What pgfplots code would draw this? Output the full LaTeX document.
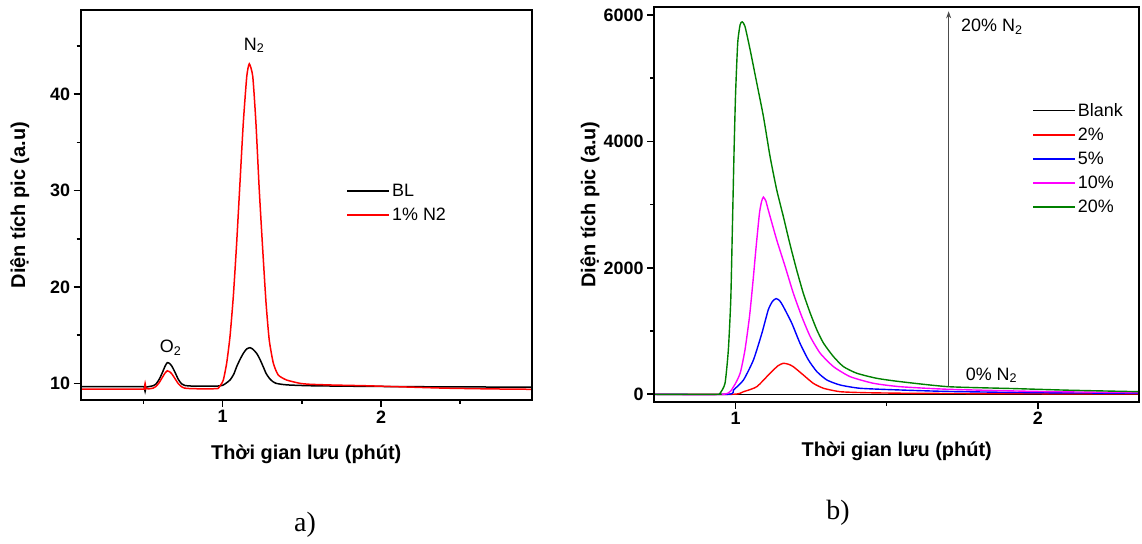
\documentclass[border=0pt]{standalone}
\usepackage{pgfplots}
\pgfplotsset{compat=1.18}
\usepackage{fontspec}
\setmainfont{Liberation Sans}
\newfontfamily\timesfont{Liberation Serif}
\usetikzlibrary{arrows.meta}

\definecolor{cgreen}{RGB}{0,128,0}
\definecolor{cmag}{RGB}{255,0,255}

\pgfplotsset{
  myaxis/.style={
    scale only axis,
    anchor=south west,
    separate axis lines,
    axis line style={line width=2bp, black},
    every outer x axis line/.append style={line width=2bp, black},
    every outer y axis line/.append style={line width=2bp, black},
    tick align=outside,
    xtick pos=left, ytick pos=left,
    major tick length=7bp, minor tick length=4bp,
    every tick/.style={line width=1.6bp, black},
    /pgf/number format/assume math mode=true,
    /pgf/number format/1000 sep={},
    scaled ticks=false,
    tick label style={font=\bfseries\fontsize{18}{18}\selectfont},
    legend style={draw=none, fill=none, font=\fontsize{18}{22}\selectfont, inner sep=0pt, row sep=6bp,
      /tikz/every even column/.append style={column sep=4bp}},
    legend cell align=left,
    legend image code/.code={\draw[#1, line width=1.6bp] (0bp,0bp) -- (42bp,0bp);},
    clip mode=individual,
  }
}

\begin{document}
\begin{tikzpicture}[x=1bp,y=1bp]
\path[use as bounding box] (0,0) rectangle (1142,544);

% ---------------- Panel a ----------------
\begin{axis}[myaxis,
  at={(80.7bp,144bp)}, width=451bp, height=390bp,
  xmin=0.103, xmax=2.952, ymin=8.27, ymax=48.75,
  xtick={1,2}, minor xtick={0.5,1.5,2.5},
  ytick={10,20,30,40}, minor ytick={15,25,35,45},
  xlabel={Thời gian lưu (phút)},
  ylabel={Diện tích pic (a.u)},
  every axis x label/.style={at={(rel axis cs:0.5,0)}, yshift=-54bp, anchor=center, font=\bfseries\fontsize{20}{24}\selectfont},
  every axis y label/.style={at={(rel axis cs:0,0.5)}, xshift=-61bp, anchor=center, rotate=90, font=\bfseries\fontsize{20}{24}\selectfont},
  legend style={at={(rel axis cs:0.589,0.559)}, anchor=north west},
]
\addplot[black, line width=1.5bp, smooth, tension=0.35] coordinates {
(0.10,9.65) (0.30,9.65) (0.49,9.65) (0.505,9.62) (0.51,9.15) (0.515,9.6) (0.53,9.65)
(0.56,9.75) (0.58,9.95) (0.60,10.45) (0.62,11.15) (0.635,11.75) (0.65,12.15) (0.665,12.05)
(0.68,11.75) (0.70,11.1) (0.72,10.4) (0.74,9.95) (0.76,9.78) (0.80,9.72) (0.90,9.7)
(0.97,9.72) (1.00,9.8) (1.02,10.0) (1.046,10.34) (1.07,10.95) (1.088,11.72) (1.11,12.5)
(1.13,13.1) (1.15,13.55) (1.172,13.7) (1.19,13.55) (1.215,13.1) (1.235,12.5) (1.256,11.72)
(1.275,11.0) (1.295,10.52) (1.315,10.2) (1.337,10.0) (1.38,9.88) (1.425,9.82) (1.55,9.75)
(1.80,9.7) (2.20,9.65) (2.95,9.6)
};
\addlegendentry{BL}
\addplot[red, line width=1.5bp, smooth, tension=0.35] coordinates {
(0.10,9.4) (0.30,9.4) (0.495,9.4) (0.505,9.45) (0.51,10.0) (0.515,9.5) (0.53,9.42)
(0.56,9.5) (0.58,9.7) (0.60,10.1) (0.62,10.65) (0.635,11.05) (0.65,11.3) (0.665,11.2)
(0.68,10.95) (0.70,10.45) (0.72,9.95) (0.74,9.65) (0.76,9.5) (0.80,9.45) (0.90,9.42)
(0.965,9.45) (0.972,9.48) (0.99,9.9) (1.004,10.34) (1.025,12.08) (1.046,14.84) (1.067,19.0)
(1.088,24.5) (1.109,30.77) (1.130,37.0) (1.152,41.84) (1.168,43.16) (1.19,41.84) (1.21,37.0)
(1.231,30.07) (1.253,23.84) (1.274,18.3) (1.294,14.5) (1.32,12.08) (1.351,10.86) (1.404,10.34)
(1.488,10.0) (1.551,9.9) (1.70,9.82) (1.90,9.75) (2.10,9.65) (2.40,9.5) (2.70,9.42) (2.95,9.38)
};
\addlegendentry{1\% N2}
\draw[black, line width=2bp] (rel axis cs:0,0) rectangle (rel axis cs:1,1);
\node[anchor=base west, font=\fontsize{18}{18}\selectfont, inner sep=0pt] at (rel axis cs:0.3615,0.897) {N\textsubscript{2}};
\node[anchor=base west, font=\fontsize{18}{18}\selectfont, inner sep=0pt] at (rel axis cs:0.175,0.1205) {O\textsubscript{2}};
\end{axis}

% ---------------- Panel b ----------------
\begin{axis}[myaxis,
  at={(654bp,142.3bp)}, width=485.3bp, height=394.4bp,
  xmin=0.73, xmax=2.336, ymin=-117, ymax=6122,
  xtick={1,2}, minor xtick={1.5},
  ytick={0,2000,4000,6000}, minor ytick={1000,3000,5000},
  xlabel={Thời gian lưu (phút)},
  ylabel={Diện tích pic (a.u)},
  every axis x label/.style={at={(rel axis cs:0.5,0)}, yshift=-50bp, anchor=center, font=\bfseries\fontsize{20}{24}\selectfont},
  every axis y label/.style={at={(rel axis cs:0,0.5)}, xshift=-64bp, anchor=center, rotate=90, font=\bfseries\fontsize{20}{24}\selectfont},
  legend style={at={(rel axis cs:0.779,0.762)}, anchor=north west},
]
\addplot[black, line width=1.4bp] coordinates {(0.73,0) (2.336,0)};
\addlegendentry{Blank}
\addplot[red, line width=1.4bp, smooth, tension=0.35] coordinates {
(0.73,0) (0.99,0) (1.026,41) (1.07,120) (1.114,333) (1.14,450) (1.158,491) (1.175,475)
(1.191,437) (1.224,306) (1.257,174) (1.291,95) (1.346,41) (1.434,25) (1.60,15) (2.00,8) (2.336,5)
};
\addlegendentry{2\%}
\addplot[blue, line width=1.4bp, smooth, tension=0.35] coordinates {
(0.73,0) (0.975,0) (0.993,68) (1.026,226) (1.059,543) (1.087,966) (1.108,1335) (1.122,1470)
(1.134,1514) (1.146,1480) (1.158,1387) (1.186,1124) (1.213,808) (1.241,543) (1.269,358)
(1.302,226) (1.346,147) (1.412,95) (1.545,68) (1.705,45) (2.00,25) (2.336,16)
};
\addlegendentry{5\%}
\addplot[cmag, line width=1.4bp, smooth, tension=0.35] coordinates {
(0.73,0) (0.96,0) (0.993,120) (1.015,333) (1.031,701) (1.046,1229) (1.057,1758) (1.068,2337)
(1.079,2866) (1.086,3050) (1.092,3119) (1.10,3060) (1.108,2918) (1.136,2443) (1.164,2021)
(1.191,1599) (1.219,1229) (1.247,912) (1.28,649) (1.324,437) (1.379,279) (1.456,174)
(1.545,120) (1.705,79) (2.00,45) (2.336,25)
};
\addlegendentry{10\%}
\addplot[cgreen, line width=1.4bp, smooth, tension=0.35] coordinates {
(0.73,0) (0.94,0) (0.9485,16) (0.965,174) (0.976,701) (0.984,1493) (0.989,2549) (0.995,3868)
(1.0,4766) (1.007,5558) (1.015,5848) (1.022,5891) (1.031,5821) (1.048,5452) (1.070,4925)
(1.092,4396) (1.114,3762) (1.136,3235) (1.158,2812) (1.179,2391) (1.202,1968) (1.224,1599)
(1.247,1283) (1.269,1018) (1.291,808) (1.324,595) (1.357,437) (1.401,333) (1.467,253)
(1.545,200) (1.705,120) (1.925,90) (2.10,65) (2.336,41)
};
\addlegendentry{20\%}
\draw[black, line width=2bp] (rel axis cs:0,0) rectangle (rel axis cs:1,1);
\draw[gray!60!black, line width=0.9bp, -{Stealth[length=7bp,width=5bp]}] (axis cs:1.705,120) -- (axis cs:1.705,6058);
\node[anchor=base west, font=\fontsize{18}{18}\selectfont, inner sep=0pt] at (rel axis cs:0.6326,0.938) {20\% N\textsubscript{2}};
\node[anchor=base west, font=\fontsize{18}{18}\selectfont, inner sep=0pt] at (rel axis cs:0.642,0.055) {0\% N\textsubscript{2}};
\end{axis}

\node[font=\timesfont\fontsize{28}{28}\selectfont] at (305,19) {a)};
\node[font=\timesfont\fontsize{28}{28}\selectfont] at (838,31) {b)};
\end{tikzpicture}
\end{document}
